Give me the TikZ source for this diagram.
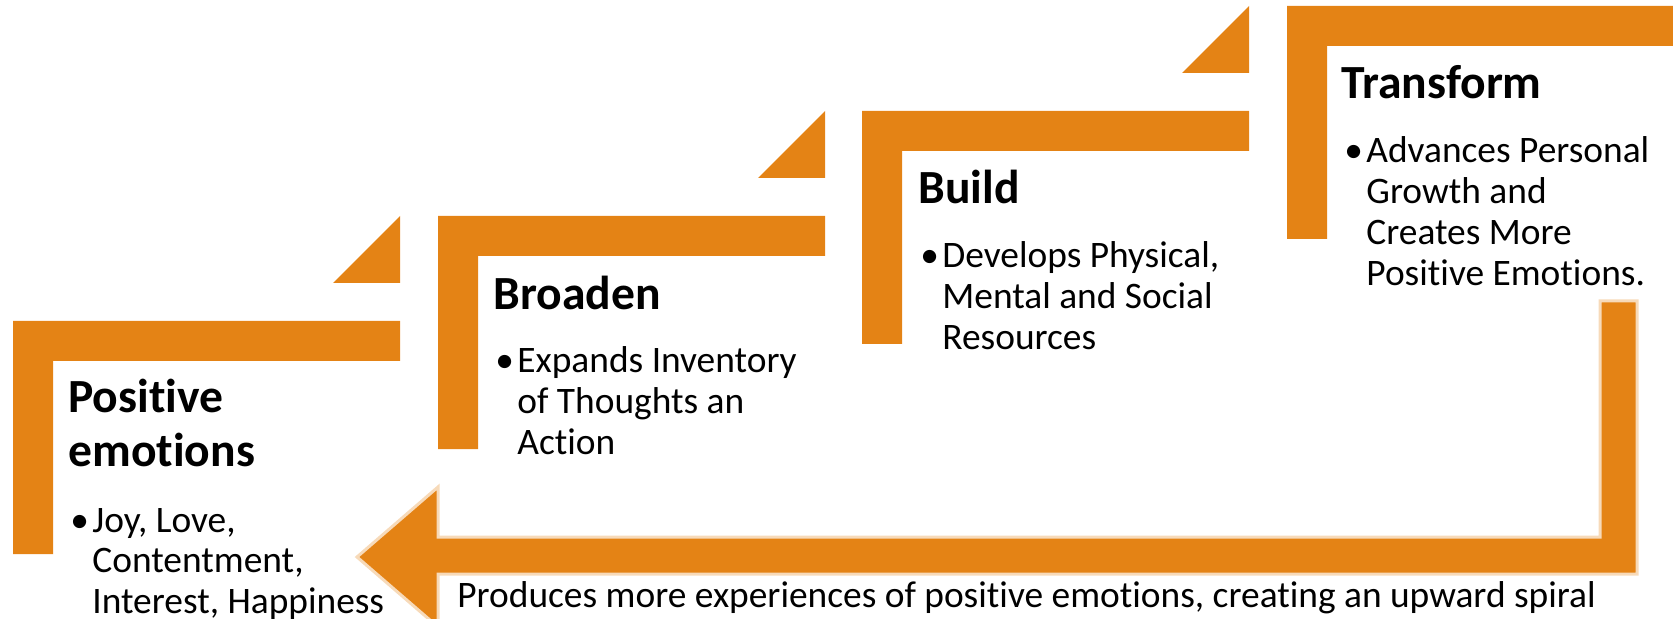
\documentclass[tikz,border=0pt]{standalone}
\usepackage{fontspec}
\setmainfont{Carlito}[Ligatures=NoCommon]
\definecolor{stepOrange}{RGB}{228,131,21}
\newcommand{\lines}[1]{\begin{tabular}[t]{@{}l@{}}#1\end{tabular}}

\begin{document}
\begin{tikzpicture}[x=0.5pt,y=-0.5pt,
    bar/.style={fill=stepOrange},
    head/.style={anchor=base west,inner sep=0pt,font=\fontsize{23.8}{27}\selectfont\bfseries},
    item/.style={anchor=base west,inner sep=0pt,font=\fontsize{18.7}{20.4}\selectfont}]
    \useasboundingbox (0,0) rectangle (1673,619);
    \clip (0,0) rectangle (1673,619);
    % the four steps
    \fill[bar] (13,321) -- (400,321) -- (400,361) -- (53,361) -- (53,554) -- (13,554) -- cycle;
    \fill[bar] (438,216) -- (825,216) -- (825,256) -- (478,256) -- (478,449) -- (438,449) -- cycle;
    \fill[bar] (862,111) -- (1249,111) -- (1249,151) -- (902,151) -- (902,344) -- (862,344) -- cycle;
    \fill[bar] (1287,6) -- (1674,6) -- (1674,46) -- (1327,46) -- (1327,239) -- (1287,239) -- cycle;
    % small triangles
    \fill[bar] (333,283) -- (400,283) -- (400,216) -- cycle;
    \fill[bar] (758,178) -- (825,178) -- (825,111) -- cycle;
    \fill[bar] (1182,73) -- (1249,73) -- (1249,6) -- cycle;
    % return arrow
    \filldraw[bar,draw=stepOrange!30,line width=1.5] (1600,301) -- (1637,301) -- (1637,574) -- (438,574)
        -- (438,627) -- (357,557) -- (438,487) -- (438,537) -- (1600,537) -- cycle;
    % texts
    \node[head] (posHead) at (68,413) {\lines{Positive\\emotions}};
    \node[item] (posDot) at (70,532) {•};
    \node[item] (posText) at (92,532) {\lines{Joy, Love,\\Contentment,\\Interest, Happiness}};
    \node[head] (broHead) at (493,310) {Broaden};
    \node[item] (broDot) at (495,373) {•};
    \node[item] (broText) at (517,373) {\lines{Expands Inventory\\of Thoughts an\\Action}};
    \node[head] (bldHead) at (918,204) {Build};
    \node[item] (bldDot) at (920,268) {•};
    \node[item] (bldText) at (942,268) {\lines{Develops Physical,\\Mental and Social\\Resources}};
    \node[head] (trfHead) at (1341,99) {Transform};
    \node[item] (trfDot) at (1344,163) {•};
    \node[item] (trfText) at (1366,163) {\lines{Advances Personal\\Growth and\\Creates More\\Positive Emotions.}};
    \node[item] (loopText) at (457,607) {Produces more experiences of positive emotions, creating an upward spiral};
\end{tikzpicture}
\end{document}
